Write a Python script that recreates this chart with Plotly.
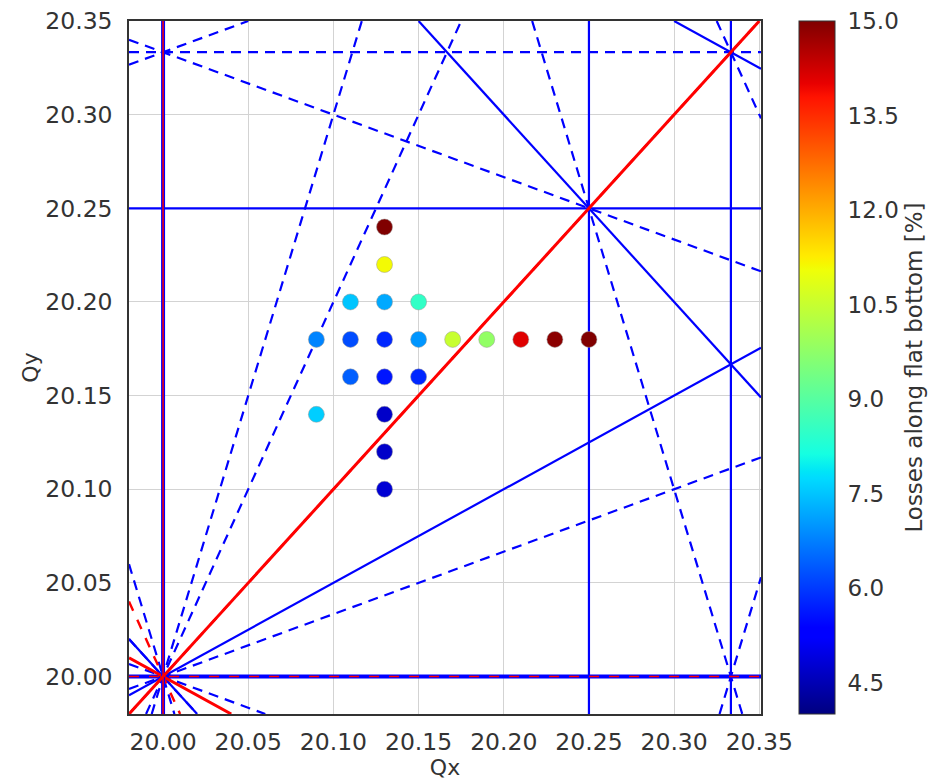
import numpy as np
import plotly.graph_objects as go

# ---- data: working points (tunes) and losses ----
qx = [20.13, 20.13, 20.11, 20.13, 20.15,
      20.09, 20.11, 20.13, 20.15, 20.17, 20.19, 20.21, 20.23, 20.25,
      20.11, 20.13, 20.15,
      20.09, 20.13, 20.13, 20.13]
qy = [20.24, 20.22, 20.20, 20.20, 20.20,
      20.18, 20.18, 20.18, 20.18, 20.18, 20.18, 20.18, 20.18, 20.18,
      20.16, 20.16, 20.16,
      20.14, 20.14, 20.12, 20.10]
losses = [15.0, 11.1, 7.5, 7.2, 8.5,
          6.8, 6.2, 5.8, 7.0, 10.5, 9.8, 14.1, 14.9, 15.0,
          6.4, 5.6, 5.8,
          7.6, 4.7, 4.7, 4.8]

x_range = [19.98, 20.351]
y_range = [19.98, 20.35]
max_order = 4
superperiod = 6
tick_vals = [20.00, 20.05, 20.10, 20.15, 20.20, 20.25, 20.30, 20.35]
cbar_ticks = [4.5, 6.0, 7.5, 9.0, 10.5, 12.0, 13.5, 15.0]
cmin, cmax = 4.0, 15.0

# ---- matplotlib 'jet' colormap as plotly colorscale ----
_jet = {
    'r': [(0, 0), (0.35, 0), (0.66, 1), (0.89, 1), (1, 0.5)],
    'g': [(0, 0), (0.125, 0), (0.375, 1), (0.64, 1), (0.91, 0), (1, 0)],
    'b': [(0, 0.5), (0.11, 1), (0.34, 1), (0.65, 0), (1, 0)],
}
stops = sorted({s for ch in _jet.values() for s, _ in ch})
def _ch(name, t):
    xs, ys = zip(*_jet[name])
    return np.interp(t, xs, ys)
jet = [[s, 'rgb(%d,%d,%d)' % tuple(int(round(255 * _ch(c, s))) for c in 'rgb')] for s in stops]

fig = go.Figure()

# ---- resonance lines m*Qx + n*Qy = p ----
def clip_line(m, n, p):
    x0, x1 = x_range
    y0, y1 = y_range
    pts = []
    if n == 0:
        x = p / m
        if x0 <= x <= x1:
            return [x, x], [y0, y1]
        return None
    if m == 0:
        y = p / n
        if y0 <= y <= y1:
            return [x0, x1], [y, y]
        return None
    for x in (x0, x1):
        y = (p - m * x) / n
        if y0 - 1e-12 <= y <= y1 + 1e-12:
            pts.append((x, y))
    for y in (y0, y1):
        x = (p - n * y) / m
        if x0 - 1e-12 <= x <= x1 + 1e-12:
            pts.append((x, y))
    pts = sorted(set((round(a, 12), round(b, 12)) for a, b in pts))
    if len(pts) < 2:
        return None
    return [pts[0][0], pts[-1][0]], [pts[0][1], pts[-1][1]]

blue_lines, red_lines = [], []
for order in range(1, max_order + 1):
    for m in range(-order, order + 1):
        for n in {order - abs(m), -(order - abs(m))}:
            if not (n > 0 or (n == 0 and m > 0)):
                continue
            corners = [m * x + n * y for x in x_range for y in y_range]
            for p in range(int(np.floor(min(corners))), int(np.ceil(max(corners))) + 1):
                seg = clip_line(m, n, p)
                if seg is None:
                    continue
                dashed = (n % 2 != 0)
                if p % superperiod == 0:
                    red_lines.append((seg, dashed))
                else:
                    blue_lines.append((seg, dashed))

def key(seg):
    return tuple(round(v, 6) for v in seg[0] + seg[1])
blue_keys = {key(s) for s, _ in blue_lines}

for seg, dashed in blue_lines:
    fig.add_trace(go.Scatter(x=seg[0], y=seg[1], mode='lines', hoverinfo='skip', showlegend=False,
                             line=dict(color='#0000ff', width=2.2, dash='10px,7px' if dashed else 'solid')))
for seg, dashed in red_lines:
    shared = key(seg) in blue_keys
    if shared:
        fig.add_trace(go.Scatter(x=seg[0], y=seg[1], mode='lines', hoverinfo='skip', showlegend=False,
                                 line=dict(color='#0000ff', width=4)))
        w = 1.5
    else:
        w = 3 if not dashed else 2.4
    fig.add_trace(go.Scatter(x=seg[0], y=seg[1], mode='lines', hoverinfo='skip', showlegend=False,
                             line=dict(color='#ff0000', width=w,
                                       dash='10px,10px' if dashed else 'solid')))

# ---- working points ----
fig.add_trace(go.Scatter(
    x=qx, y=qy, mode='markers', showlegend=False,
    marker=dict(size=16, color=losses, colorscale=jet, cmin=cmin, cmax=cmax,
                line=dict(color='#999999', width=0.5),
                colorbar=dict(
                    x=1.06, xanchor='left', y=0.5, yanchor='middle', len=1.0, lenmode='fraction',
                    xpad=0, ypad=0,
                    thickness=36, outlinewidth=1, outlinecolor='#333333',
                    tickvals=cbar_ticks, ticktext=['%.1f' % v for v in cbar_ticks],
                    ticks='outside', ticklen=8, tickcolor='rgba(0,0,0,0)',
                    tickfont=dict(family='DejaVu Sans', size=23, color='#333333'),
                    title=dict(text='Losses along flat bottom [%]', side='right',
                               font=dict(family='DejaVu Sans', size=23, color='#333333')),
                ))))

axis_common = dict(showgrid=True, gridcolor='#d3d3d3', gridwidth=1, zeroline=False,
                   showline=True, linecolor='#333333', linewidth=1.5, mirror=True,
                   automargin=False,
                   ticks='', tickfont=dict(family='DejaVu Sans', size=23.5, color='#333333'),
                   tickvals=tick_vals, ticktext=['%.2f' % v for v in tick_vals])
fig.update_layout(
    width=929, height=780,
    margin=dict(l=129, r=168, t=21, b=66, autoexpand=False),
    plot_bgcolor='white', paper_bgcolor='white',
    xaxis=dict(range=x_range, title=dict(text='Qx', standoff=8,
               font=dict(family='DejaVu Sans', size=22, color='#333333')),
               ticklabelstandoff=6, **axis_common),
    yaxis=dict(range=y_range, title=dict(text='Qy', standoff=1,
               font=dict(family='DejaVu Sans', size=22, color='#333333')),
               ticklabelstandoff=10, **axis_common),
)

fig.write_html('out.html')
